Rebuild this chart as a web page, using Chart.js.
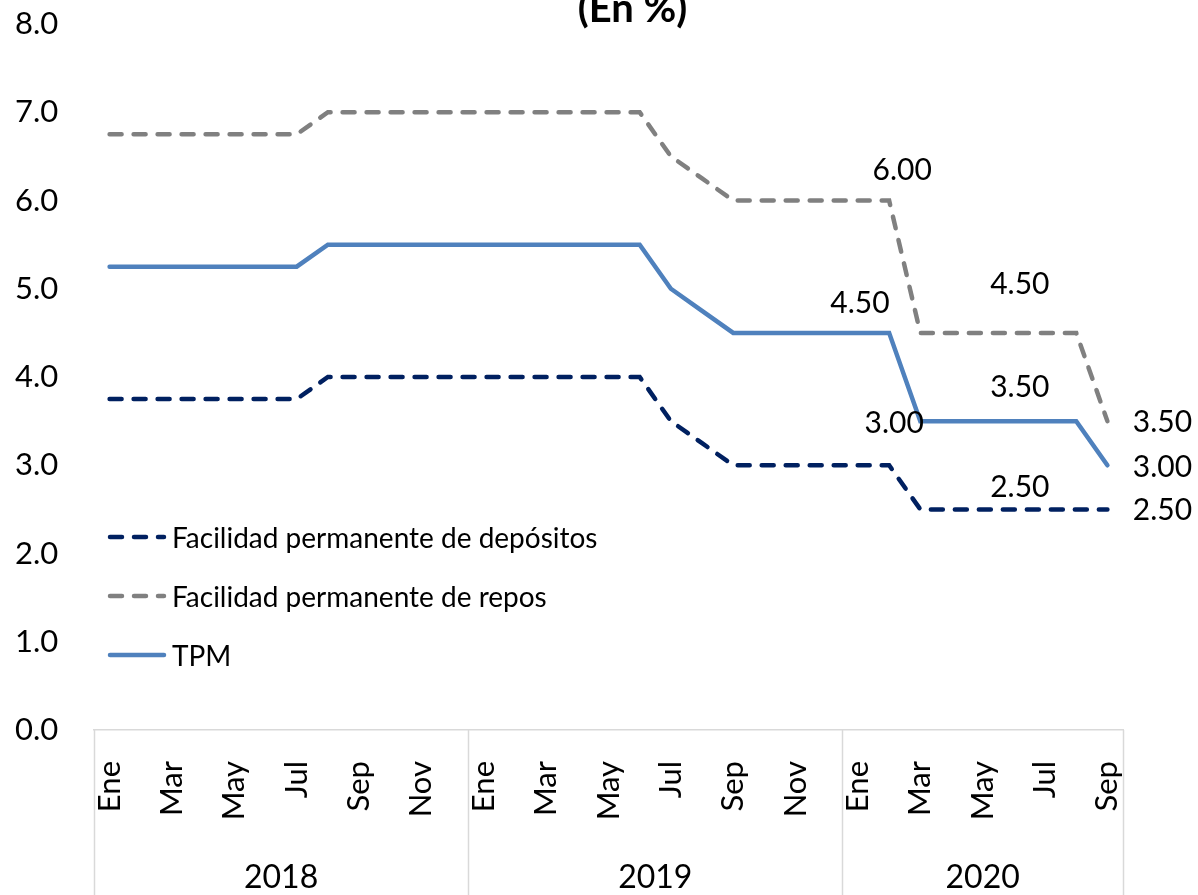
<!DOCTYPE html>
<html>
<head>
<meta charset="utf-8">
<script src="https://cdn.jsdelivr.net/npm/chart.js@4.4.0/dist/chart.umd.min.js"></script>
<style>
    html, body { margin: 0; padding: 0; background: #ffffff; }
    #wrap { width: 1198px; height: 895px; position: relative; }
</style>
</head>
<body>
<div id="wrap"><canvas id="myChart"></canvas></div>
<script>
// monthly data, Ene 2018 - Sep 2020
const months = [
    'Ene', 'Feb', 'Mar', 'Abr', 'May', 'Jun', 'Jul', 'Ago', 'Sep', 'Oct', 'Nov', 'Dic',
    'Ene', 'Feb', 'Mar', 'Abr', 'May', 'Jun', 'Jul', 'Ago', 'Sep', 'Oct', 'Nov', 'Dic',
    'Ene', 'Feb', 'Mar', 'Abr', 'May', 'Jun', 'Jul', 'Ago', 'Sep'
];
const years = ['2018', '2019', '2020'];
const monthsPerYear = [12, 12, 9];
const yTicks = [0, 1, 2, 3, 4, 5, 6, 7, 8];

const depositos = [
    3.75, 3.75, 3.75, 3.75, 3.75, 3.75, 3.75, 4.00, 4.00, 4.00, 4.00, 4.00,
    4.00, 4.00, 4.00, 4.00, 4.00, 4.00, 3.50, 3.25, 3.00, 3.00, 3.00, 3.00,
    3.00, 3.00, 2.50, 2.50, 2.50, 2.50, 2.50, 2.50, 2.50
];
const repos = [
    6.75, 6.75, 6.75, 6.75, 6.75, 6.75, 6.75, 7.00, 7.00, 7.00, 7.00, 7.00,
    7.00, 7.00, 7.00, 7.00, 7.00, 7.00, 6.50, 6.25, 6.00, 6.00, 6.00, 6.00,
    6.00, 6.00, 4.50, 4.50, 4.50, 4.50, 4.50, 4.50, 3.50
];
const tpm = [
    5.25, 5.25, 5.25, 5.25, 5.25, 5.25, 5.25, 5.50, 5.50, 5.50, 5.50, 5.50,
    5.50, 5.50, 5.50, 5.50, 5.50, 5.50, 5.00, 4.75, 4.50, 4.50, 4.50, 4.50,
    4.50, 4.50, 3.50, 3.50, 3.50, 3.50, 3.50, 3.50, 3.00
];

// which points get a value label (dataset, point) and where it sits
const labelSpots = [
    { ds: 1, i: 25, dx: 13, dy: -30 },
    { ds: 2, i: 24, dx: 2, dy: -30 },
    { ds: 0, i: 25, dx: 5, dy: -42 },
    { ds: 1, i: 29, dx: 6, dy: -49 },
    { ds: 2, i: 29, dx: 6, dy: -34 },
    { ds: 0, i: 29, dx: 6, dy: -22 },
    { ds: 1, i: 32, dx: 55, dy: 1 },
    { ds: 2, i: 32, dx: 55, dy: 2 },
    { ds: 0, i: 32, dx: 55, dy: 1 }
];

document.addEventListener('DOMContentLoaded', function () {
    const fontFamily = 'Lato, "DejaVu Sans", sans-serif';
    const sepColor = '#d9d9d9';

    // year centres and borders on the month index scale
    const yearCenters = [];
    const yearEdges = [-0.5];
    let start = 0;
    monthsPerYear.forEach(function (n) {
        yearCenters.push(start + (n - 1) / 2);
        yearEdges.push(start + n - 0.5);
        start += n;
    });

    const titleText = {
        id: 'titleText',
        afterDraw(chart) {
            const ctx = chart.ctx;
            const area = chart.chartArea;
            ctx.save();
            ctx.font = 'bold 40px ' + fontFamily;
            ctx.fillStyle = '#000000';
            ctx.textAlign = 'center';
            ctx.textBaseline = 'alphabetic';
            ctx.fillText('(En %)', (area.left + area.right) / 2 + 24, area.top - 2);
            ctx.restore();
        }
    };

    const valueLabels = {
        id: 'valueLabels',
        afterDatasetsDraw(chart) {
            const ctx = chart.ctx;
            ctx.save();
            ctx.font = '30px ' + fontFamily;
            ctx.fillStyle = '#000000';
            ctx.textAlign = 'center';
            ctx.textBaseline = 'middle';
            labelSpots.forEach(function (s) {
                const pt = chart.getDatasetMeta(s.ds).data[s.i];
                const val = chart.data.datasets[s.ds].data[s.i];
                ctx.fillText(val.toFixed(2), pt.x + s.dx, pt.y + s.dy);
            });
            ctx.restore();
        }
    };

    const yearSeparators = {
        id: 'yearSeparators',
        afterDraw(chart) {
            const ctx = chart.ctx;
            const sx = chart.scales.x2;
            ctx.save();
            ctx.strokeStyle = sepColor;
            ctx.lineWidth = 1.5;
            yearEdges.forEach(function (v) {
                const px = Math.round(sx.getPixelForValue(v)) + 0.5;
                ctx.beginPath();
                ctx.moveTo(px, chart.chartArea.bottom);
                ctx.lineTo(px, chart.height);
                ctx.stroke();
            });
            ctx.restore();
        }
    };

    const innerLegend = {
        id: 'innerLegend',
        afterDraw(chart) {
            const ctx = chart.ctx;
            const area = chart.chartArea;
            ctx.save();
            ctx.font = '28px ' + fontFamily;
            ctx.fillStyle = '#000000';
            ctx.textAlign = 'left';
            ctx.textBaseline = 'middle';
            chart.data.datasets.forEach(function (ds, k) {
                const y = area.bottom - 193 + k * 59;
                const x0 = area.left + 14;
                ctx.strokeStyle = ds.borderColor;
                ctx.lineWidth = ds.borderWidth;
                ctx.lineCap = 'round';
                ctx.setLineDash(ds.borderDash || []);
                ctx.beginPath();
                ctx.moveTo(x0 + 2, y);
                ctx.lineTo(x0 + 56, y);
                ctx.stroke();
                ctx.setLineDash([]);
                ctx.fillText(ds.label, x0 + 64, y + 2);
            });
            ctx.restore();
        }
    };

    const ctx = document.getElementById('myChart').getContext('2d');
    const myChart = new Chart(ctx, {
        type: 'line',
        data: {
            labels: months,
            datasets: [{
                label: 'Facilidad permanente de depósitos',
                data: depositos,
                borderColor: '#002060',
                borderWidth: 4.5,
                borderDash: [12, 12],
                borderCapStyle: 'round'
            }, {
                label: 'Facilidad permanente de repos',
                data: repos,
                borderColor: '#808080',
                borderWidth: 4.5,
                borderDash: [12, 12],
                borderCapStyle: 'round'
            }, {
                label: 'TPM',
                data: tpm,
                borderColor: '#4f81bd',
                borderWidth: 4.5,
                borderCapStyle: 'round'
            }]
        },
        options: {
            responsive: true,
            maintainAspectRatio: false,
            animation: false,
            elements: {
                point: { radius: 0, hoverRadius: 0 },
                line: { tension: 0, fill: false }
            },
            layout: {
                padding: { left: 15, right: 75, top: 24, bottom: 0 }
            },
            scales: {
                y: {
                    min: 0,
                    max: 8,
                    afterBuildTicks: function (axis) {
                        axis.ticks = yTicks.map(function (v) { return { value: v }; });
                    },
                    afterFit: function (axis) {
                        axis.width = 79;
                    },
                    grid: { display: false, drawTicks: false },
                    border: { display: false },
                    ticks: {
                        color: '#000000',
                        font: { family: fontFamily, size: 31 },
                        padding: 0,
                        crossAlign: 'far',
                        callback: function (val) {
                            return val.toFixed(1);
                        }
                    }
                },
                x: {
                    type: 'category',
                    offset: true,
                    afterFit: function (axis) {
                        axis.height = 100;
                    },
                    grid: { display: false, drawTicks: false },
                    border: { display: true, color: sepColor, width: 1.5 },
                    ticks: {
                        color: '#000000',
                        font: { family: fontFamily, size: 31 },
                        autoSkip: false,
                        minRotation: 90,
                        maxRotation: 90,
                        padding: 31,
                        callback: function (val, index) {
                            return index % 2 === 0 ? this.getLabelForValue(val) : '';
                        }
                    }
                },
                x2: {
                    type: 'linear',
                    position: 'bottom',
                    min: -0.5,
                    max: months.length - 0.5,
                    afterBuildTicks: function (axis) {
                        axis.ticks = yearCenters.map(function (v) { return { value: v }; });
                    },
                    afterFit: function (axis) {
                        axis.height = 65;
                    },
                    grid: { display: false, drawTicks: false },
                    border: { display: false },
                    ticks: {
                        color: '#000000',
                        font: { family: fontFamily, size: 32 },
                        autoSkip: false,
                        maxRotation: 0,
                        padding: 28,
                        callback: function (val, index) {
                            return years[index];
                        }
                    }
                }
            },
            plugins: {
                legend: { display: false },
                tooltip: { enabled: false },
                title: { display: false }
            }
        },
        plugins: [valueLabels, yearSeparators, innerLegend, titleText]
    });
});
</script>
</body>
</html>
